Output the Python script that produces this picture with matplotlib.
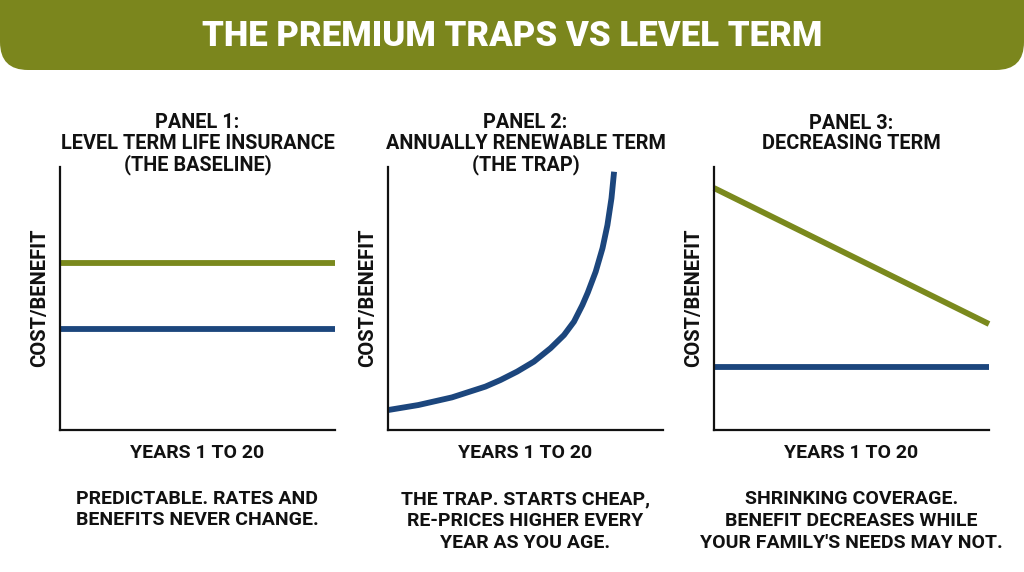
import matplotlib.pyplot as plt
from matplotlib.patches import FancyBboxPatch

# data (x = policy year, y = relative cost/benefit, 0-100)
years = [1, 20]
level_benefit = [63.5, 63.5]
level_cost = [38.4, 38.4]

art_years = [1.02, 3.10, 5.42, 7.73, 8.77, 9.92, 11.08, 12.23, 13.16, 13.85,
             14.43, 14.80, 15.35, 15.82, 16.16, 16.44, 16.62]
art_cost = [7.6, 9.5, 12.4, 16.5, 19.0, 22.2, 26.0, 31.1, 36.1, 41.2,
            47.5, 52.2, 60.2, 69.1, 77.9, 88.1, 98.2]

decr_benefit = [92.0, 40.3]
decr_cost = [24.0, 24.0]

panel_titles = [
    "PANEL 1:\nLEVEL TERM LIFE INSURANCE\n(THE BASELINE)",
    "PANEL 2:\nANNUALLY RENEWABLE TERM\n(THE TRAP)",
    "PANEL 3:\nDECREASING TERM",
]
panel_notes = [
    "PREDICTABLE. RATES AND\nBENEFITS NEVER CHANGE.",
    "THE TRAP. STARTS CHEAP,\nRE-PRICES HIGHER EVERY\nYEAR AS YOU AGE.",
    "SHRINKING COVERAGE.\nBENEFIT DECREASES WHILE\nYOUR FAMILY'S NEEDS MAY NOT.",
]
x_label = "YEARS 1 TO 20"
y_label = "COST/BENEFIT"
header = "THE PREMIUM TRAPS VS LEVEL TERM"

GREEN = "#7A891D"
HEADER_GREEN = "#7B861D"
BLUE = "#1C467D"
INK = "#111111"
W, H = 1024, 572

plt.rcParams['font.family'] = ['Roboto', 'DejaVu Sans']

fig = plt.figure(figsize=(W / 100, H / 100), dpi=100)
fig.patch.set_facecolor('white')

# background layer in pixel coordinates
bg = fig.add_axes([0, 0, 1, 1], zorder=0)
bg.set_xlim(0, W)
bg.set_ylim(H, 0)
bg.axis('off')

band = FancyBboxPatch((0, -40), W, 110, boxstyle="round,pad=0,rounding_size=28",
                      facecolor=HEADER_GREEN, edgecolor='none')
bg.add_patch(band)
bg.text(W / 2, 37, header, ha='center', va='center', color='white',
        fontsize=25, fontweight='black')

# panel axes: left edge in pixels, shared width/top/bottom
lefts = [60, 388, 714]
width = 275
top, bottom = 167, 430

axes = []
for left in lefts:
    ax = fig.add_axes([left / W, (H - bottom) / H, width / W, (bottom - top) / H], zorder=1)
    ax.set_xlim(1, 20)
    ax.set_ylim(0, 100)
    ax.set_xticks([])
    ax.set_yticks([])
    ax.patch.set_alpha(0)
    for s in ['top', 'right']:
        ax.spines[s].set_visible(False)
    for s in ['left', 'bottom']:
        ax.spines[s].set_linewidth(1.6)
        ax.spines[s].set_color(INK)
    axes.append(ax)

lw = 4.2
style = dict(lw=lw, solid_capstyle='butt', solid_joinstyle='round', clip_on=False)
axes[0].plot(years, level_benefit, color=GREEN, **style)
axes[0].plot(years, level_cost, color=BLUE, **style)

axes[1].plot(art_years, art_cost, color=BLUE, **style)

axes[2].plot(years, decr_benefit, color=GREEN, **style)
axes[2].plot(years, decr_cost, color=BLUE, **style)

# text around each panel
for i, left in enumerate(lefts):
    cx = left + width / 2
    bg.text(cx, 144 if i < 2 else 133.5, panel_titles[i], ha='center', va='center',
            fontsize=14.3, fontweight='bold', color=INK, linespacing=1.13)
    bg.text(left - 20, 298, y_label, ha='center', va='center', rotation=90,
            fontsize=14.5, fontweight='bold', color=INK)
    bg.text(cx, 453, x_label, ha='center', va='center',
            fontsize=14, fontweight='bold', color=INK)
    note_y = 509.5 if i == 0 else 521
    bg.text(cx, note_y, panel_notes[i], ha='center', va='center',
            fontsize=14, fontweight='bold', color=INK, linespacing=1.26)

fig.savefig('out.png', dpi=100, facecolor='white')
